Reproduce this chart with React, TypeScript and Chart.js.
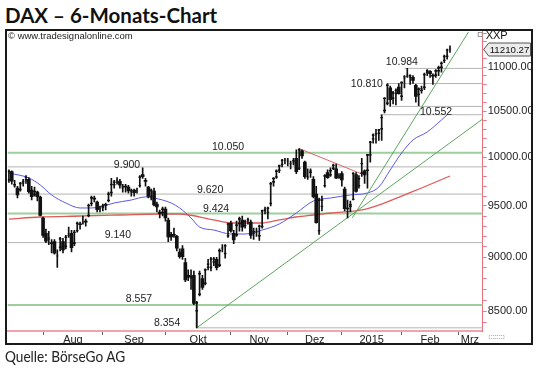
import React, { useEffect, useRef } from 'react';
import { Chart, registerables } from 'chart.js';
Chart.register(...registerables);

// DAX daily bars, 16 Jul 2014 (index 0) .. 25 Feb 2015 (index 155)
const opens = [
  9760, 9850, 9700, 9680, 9660, 9730, 9760, 9770, 9660, 9610, 9640, 9590,
  9380, 9230, 9170, 9140, 9150, 9010, 9090, 9150, 9100, 9210, 9230, 9130, 9250, 9320, 9330, 9340, 9400, 9520, 9580, 9540, 9470,
  9480, 9510, 9550, 9630, 9710, 9740, 9750, 9680, 9700, 9690, 9640, 9660, 9650, 9700, 9820, 9760, 9690, 9590, 9650, 9520, 9440, 9430,
  9470, 9360, 9220, 9220, 9200, 9050, 9080, 8950, 8830, 8800, 8830, 8500, 8650, 8800, 8750, 8900, 8900, 8950, 8980, 8920, 9080, 9030, 9200,
  9330, 9230, 9210, 9320, 9360, 9300, 9350, 9340, 9230, 9240, 9200, 9290, 9450, 9430, 9520, 9740, 9790, 9860, 9920, 9970,
  9960, 9930, 9950, 9990, 9880, 10070, 9950, 9790, 9840, 9770, 9620, 9250, 9490, 9700, 9840, 9810, 9880, 9880, 9790,
  9830, 9670, 9480, 9490, 9560, 9820, 9700, 9830, 9860, 9860, 10020, 10190, 10240, 10250, 10300, 10500, 10580, 10760, 10640, 10690, 10770,
  10660, 10870, 10890, 10880, 10880, 10790, 10680, 10730, 10760, 10930, 10950, 10900, 10900, 10950, 10990, 11070, 11120, 11210,
];
const highs = [
  9870, 9860, 9760, 9700, 9740, 9770, 9810, 9790, 9700, 9690, 9650, 9600,
  9390, 9270, 9250, 9170, 9170, 9070, 9190, 9180, 9210, 9290, 9260, 9260, 9340, 9340, 9400, 9370, 9520, 9600, 9600, 9550, 9500,
  9520, 9530, 9640, 9780, 9760, 9790, 9770, 9720, 9720, 9710, 9670, 9670, 9680, 9810, 9891, 9780, 9700, 9670, 9680, 9540, 9460, 9490,
  9490, 9380, 9240, 9280, 9210, 9080, 9110, 8990, 8880, 8880, 8870, 8590, 8870, 8830, 8890, 8980, 9000, 9000, 9000, 9080, 9120, 9120, 9330,
  9350, 9260, 9350, 9390, 9400, 9360, 9380, 9360, 9280, 9280, 9310, 9460, 9490, 9490, 9740, 9790, 9870, 9920, 9980, 9990,
  9990, 9960, 9990, 10080, 10093, 10080, 9960, 9880, 9880, 9800, 9700, 9580, 9600, 9820, 9870, 9890, 9930, 9930, 9830,
  9850, 9690, 9560, 9550, 9840, 9840, 9810, 9990, 9870, 10030, 10170, 10250, 10300, 10300, 10460, 10650, 10810, 10780, 10720, 10750, 10810,
  10830, 10900, 10984, 10910, 10900, 10800, 10760, 10780, 10930, 10970, 10960, 10920, 10970, 11010, 11060, 11140, 11210, 11250,
];
const lows = [
  9740, 9720, 9690, 9580, 9650, 9700, 9730, 9630, 9560, 9600, 9550, 9400,
  9190, 9140, 9120, 9040, 9030, 8903, 9060, 9040, 9080, 9190, 9050, 9110, 9240, 9270, 9320, 9300, 9390, 9500, 9540, 9440, 9440,
  9450, 9460, 9540, 9600, 9680, 9720, 9680, 9640, 9640, 9630, 9600, 9600, 9630, 9690, 9780, 9700, 9580, 9560, 9500, 9440, 9380, 9400,
  9350, 9150, 9160, 9190, 9060, 8990, 8980, 8770, 8780, 8700, 8560, 8354, 8640, 8700, 8740, 8880, 8870, 8920, 8880, 8910, 9050, 8990, 9190,
  9240, 9130, 9200, 9250, 9250, 9280, 9320, 9180, 9170, 9200, 9160, 9280, 9420, 9370, 9500, 9700, 9780, 9840, 9900, 9930,
  9910, 9880, 9920, 9830, 9870, 9990, 9780, 9770, 9790, 9580, 9330, 9219, 9450, 9690, 9780, 9800, 9870, 9780, 9780,
  9700, 9450, 9382, 9440, 9560, 9640, 9680, 9800, 9730, 9680, 9950, 10150, 10150, 10180, 10180, 10480, 10570, 10552, 10580, 10570, 10690,
  10620, 10760, 10880, 10800, 10810, 10600, 10560, 10700, 10740, 10900, 10880, 10800, 10880, 10900, 10940, 11050, 11090, 11170,
];
const closes = [
  9859, 9753, 9720, 9612, 9734, 9753, 9797, 9644, 9594, 9653, 9593, 9407,
  9210, 9154, 9189, 9130, 9038, 9010, 9180, 9069, 9198, 9225, 9092, 9245, 9334, 9314, 9340, 9339, 9510, 9588, 9569, 9462, 9470,
  9507, 9507, 9626, 9724, 9747, 9758, 9710, 9700, 9691, 9651, 9660, 9633, 9661, 9799, 9799, 9749, 9595, 9662, 9511, 9490, 9422, 9474,
  9382, 9195, 9195, 9209, 9086, 9005, 9005, 8788, 8812, 8826, 8572, 8582, 8850, 8717, 8886, 8940, 8987, 8988, 8902, 9068, 9083, 9115, 9326,
  9254, 9166, 9315, 9377, 9291, 9351, 9369, 9210, 9248, 9252, 9306, 9456, 9472, 9483, 9732, 9785, 9861, 9915, 9974, 9980,
  9963, 9935, 9971, 9851, 10087, 10014, 9799, 9799, 9862, 9594, 9334, 9563, 9564, 9811, 9787, 9865, 9922, 9783, 9806,
  9764, 9473, 9470, 9518, 9837, 9648, 9781, 9941, 9817, 10032, 10167, 10242, 10257, 10299, 10435, 10649, 10798, 10628, 10710, 10738, 10694,
  10828, 10890, 10911, 10906, 10846, 10663, 10752, 10752, 10919, 10963, 10924, 10895, 10961, 10996, 11050, 11130, 11205, 11210.27,
];

// moving averages (bar index / value)
const blueMaIdx = [0, 7, 11, 15, 20, 25, 29, 32, 37, 43, 48, 51, 57, 60, 64, 67, 72, 78, 83, 89, 95, 101, 107, 113, 120, 126, 130, 134, 138, 142, 147, 152, 154];
const blueMaVal = [9836, 9785, 9713, 9611, 9530, 9480, 9480, 9490, 9530, 9560, 9591, 9580, 9530, 9480, 9380, 9291, 9262, 9223, 9223, 9262, 9321, 9430, 9550, 9580, 9611, 9631, 9692, 9868, 10046, 10185, 10271, 10402, 10457];
const redMaIdx = [0, 11, 25, 39, 53, 60, 72, 78, 84, 89, 95, 101, 107, 113, 124, 132, 138, 145, 155];
const redMaVal = [9370, 9390, 9400, 9410, 9420, 9420, 9361, 9331, 9331, 9331, 9361, 9390, 9410, 9430, 9460, 9530, 9600, 9682, 9805];

// horizontal levels
const levelPrices = [10984, 10810, 10552, 10460, 10050, 9900, 9620, 9424, 9140, 8557, 8354];
const levelFrom = [139, 133, 134.5, 130.5, -0.5, -0.5, -0.5, -0.5, -0.5, -0.5, 66];
const levelKind = ['gray', 'gray', 'gray', 'gray', 'green', 'gray', 'gray', 'green', 'gray', 'green', 'gray'];

// trend lines: [startIdx, startPrice, endIdx, endPrice]
const greenTrend1 = [66, 8354, 166.5, 10413];
const greenTrend2 = [120.7, 9382, 161.5, 11414];
const redTrend = [102, 10093, 124, 9826];

// annotation texts
const labelTexts = ['10.984', '10.810', '10.552', '10.050', '9.900', '9.620', '9.424', '9.140', '8.557', '8.354'];
const labelIdx = [138.1, 125.8, 150.1, 77, 41.5, 70.7, 72.8, 38.3, 45.7, 55.6];
const labelPrice = [11058, 10805, 10490, 10110, 9920, 9662, 9470, 9214, 8612, 8397];

const monthStartIdx = [12, 33, 55, 78, 98, 117, 138, 158];
const monthLabels = ['Aug', 'Sep', 'Okt', 'Nov', 'Dez', '2015', 'Feb', 'Mrz'];
const monthLabelIdx = [22.5, 44, 66.5, 88, 107.5, 127.5, 148, 162];

const yMajorTicks = [8500, 9000, 9500, 10000, 10500, 11000];
const lastPrice = 11210.27;

const X_MIN = -0.5;
const X_MAX = 166.5;
const FONT = "'Liberation Sans', Arial, sans-serif";

const overlayPlugin = {
  id: 'overlay',
  afterDatasetsDraw(chart: any) {
    const { ctx, scales } = chart;
    const xs = scales.x;
    const ys = scales.y;
    ctx.save();
    ctx.fillStyle = '#222';
    ctx.font = `10.5px ${FONT}`;
    ctx.textAlign = 'center';
    ctx.textBaseline = 'middle';
    labelTexts.forEach((t, i) => {
      ctx.fillText(t, xs.getPixelForValue(labelIdx[i]), ys.getPixelForValue(labelPrice[i]));
    });
    ctx.restore();
  },
  afterDraw(chart: any) {
    const { ctx, scales, chartArea } = chart;
    const ys = scales.y;
    const yp = Math.round(ys.getPixelForValue(lastPrice)) + 0.5;
    const x0 = chartArea.right + 1;
    ctx.save();
    // price box
    ctx.beginPath();
    ctx.moveTo(x0, yp);
    ctx.lineTo(x0 + 5, yp - 6.5);
    ctx.lineTo(530.5, yp - 6.5);
    ctx.lineTo(530.5, yp + 6.5);
    ctx.lineTo(x0 + 5, yp + 6.5);
    ctx.closePath();
    ctx.fillStyle = '#ececec';
    ctx.fill();
    ctx.strokeStyle = '#555';
    ctx.lineWidth = 1;
    ctx.stroke();
    ctx.fillStyle = '#111';
    ctx.font = `9.7px ${FONT}`;
    ctx.textAlign = 'left';
    ctx.textBaseline = 'middle';
    ctx.fillText(lastPrice.toFixed(2), x0 + 6, yp + 0.5);
    // XXP
    ctx.font = `11px ${FONT}`;
    ctx.fillText('XXP', chartArea.right + 3, chartArea.top + 5);
    ctx.strokeStyle = '#999';
    ctx.strokeRect(chartArea.right - 4.5, chartArea.top + 1.5, 4, 4);
    // small icon bottom right
    ctx.strokeStyle = '#aaa';
    ctx.setLineDash([1, 1]);
    ctx.strokeRect(chartArea.right + 6.5, chartArea.bottom + 4.5, 15, 3);
    ctx.restore();
  },
};

export default function App() {
  const canvasRef = useRef<HTMLCanvasElement | null>(null);

  useEffect(() => {
    const canvas = canvasRef.current;
    if (!canvas) return;

    const wickData = highs.map((h, i) => ({ x: i, y: [lows[i], h] }));
    const bodyData = opens.map((o, i) => ({ x: i, y: [Math.min(o, closes[i]), Math.max(o, closes[i])] }));
    const isDown = (i: number) => closes[i] < opens[i];

    const seg = (a: number[]) => [
      { x: a[0], y: a[1] },
      { x: a[2], y: a[3] },
    ];

    const lineBase = { type: 'line', pointRadius: 0, fill: false, tension: 0 };

    const levelSets = levelPrices.map((p, i) => ({
      ...lineBase,
      data: [
        { x: levelFrom[i], y: p },
        { x: X_MAX, y: p },
      ],
      borderColor: levelKind[i] === 'green' ? '#9dcf9d' : '#b4b4b4',
      borderWidth: levelKind[i] === 'green' ? 2 : 1,
      order: 20,
    }));

    const chart = new Chart(canvas, {
      type: 'bar',
      data: {
        datasets: [
          ...levelSets,
          {
            ...lineBase,
            data: [
              { x: 66, y: 8557 },
              { x: 66, y: 8354 },
            ],
            borderColor: '#a0a0a0',
            borderWidth: 2,
            order: 19,
          },
          {
            ...lineBase,
            data: blueMaIdx.map((x, i) => ({ x, y: blueMaVal[i] })),
            borderColor: '#5a5ae6',
            borderWidth: 1,
            tension: 0.4,
            cubicInterpolationMode: 'monotone',
            order: 8,
          },
          {
            ...lineBase,
            data: redMaIdx.map((x, i) => ({ x, y: redMaVal[i] })),
            borderColor: '#e05a5a',
            borderWidth: 1.3,
            tension: 0.4,
            cubicInterpolationMode: 'monotone',
            order: 8,
          },
          { ...lineBase, data: seg(greenTrend1), borderColor: '#5da55d', borderWidth: 1, order: 7 },
          { ...lineBase, data: seg(greenTrend2), borderColor: '#5da55d', borderWidth: 1, order: 7 },
          { ...lineBase, data: seg(redTrend), borderColor: '#e06464', borderWidth: 1, order: 7 },
          {
            type: 'bar',
            data: wickData,
            backgroundColor: '#111',
            barThickness: 1,
            grouped: false,
            borderSkipped: false,
            order: 2,
          },
          {
            type: 'bar',
            data: bodyData,
            backgroundColor: (c: any) => (isDown(c.dataIndex) ? '#111' : 'rgba(0,0,0,0)'),
            borderColor: '#111',
            borderWidth: (c: any) => (isDown(c.dataIndex) ? 0 : { top: 1, bottom: 1, left: 0, right: 0 }),
            barThickness: 3,
            grouped: false,
            borderSkipped: false,
            minBarLength: 1,
            order: 1,
          },
        ] as any,
      },
      options: {
        animation: false,
        responsive: false,
        devicePixelRatio: 1,
        events: [],
        layout: { padding: { left: 7.5, top: 31, right: 7.3, bottom: 24 } },
        plugins: { legend: { display: false }, tooltip: { enabled: false } },
        scales: {
          x: {
            type: 'linear',
            min: X_MIN,
            max: X_MAX,
            offset: false,
            afterFit: (s: any) => {
              s.height = 14;
            },
            afterBuildTicks: (s: any) => {
              s.ticks = [...monthStartIdx, ...monthLabelIdx].sort((a, b) => a - b).map((v) => ({ value: v }));
            },
            ticks: {
              autoSkip: false,
              maxRotation: 0,
              padding: -2,
              color: '#222',
              font: { family: FONT, size: 11 },
              callback: (v: any) => {
                const k = monthLabelIdx.indexOf(Number(v));
                return k >= 0 ? monthLabels[k] : '';
              },
            },
            grid: {
              drawOnChartArea: false,
              offset: false,
              tickLength: 4,
              color: (c: any) => (c.tick && monthStartIdx.includes(c.tick.value) ? '#666' : 'rgba(0,0,0,0)'),
            },
            border: { display: true, color: '#f0a4ac', width: 2 },
          },
          y: {
            type: 'logarithmic',
            position: 'right',
            min: 8326,
            max: 11426,
            afterFit: (s: any) => {
              s.width = 50;
            },
            afterBuildTicks: (s: any) => {
              const t: any[] = [];
              for (let v = 8400; v <= 11400; v += 100) t.push({ value: v });
              s.ticks = t;
            },
            ticks: {
              autoSkip: false,
              padding: 1,
              color: '#222',
              font: { family: FONT, size: 11 },
              callback: (v: any) => (yMajorTicks.includes(Number(v)) ? Number(v).toFixed(2) : ''),
            },
            grid: { drawOnChartArea: false, tickLength: 4, color: '#e8808b' },
            border: { display: true, color: '#e8707c', width: 1 },
          },
        } as any,
      },
      plugins: [overlayPlugin],
    });
    return () => chart.destroy();
  }, []);

  return (
    <div style={{ position: 'absolute', left: 0, top: 0, width: 540, height: 369, background: '#fff', overflow: 'hidden' }}>
      <div
        style={{
          position: 'absolute',
          left: 5,
          top: 3,
          fontFamily: "Lato, 'Open Sans', sans-serif",
          fontWeight: 700,
          fontSize: 20.5,
          lineHeight: '24px',
          color: '#111',
          whiteSpace: 'nowrap',
        }}
      >
        DAX – 6-Monats-Chart
      </div>
      <canvas ref={canvasRef} width={540} height={369} style={{ position: 'absolute', left: 0, top: 0 }} />
      <div
        style={{
          position: 'absolute',
          left: 5,
          top: 29,
          width: 528,
          height: 316,
          border: '2px solid #1a1a1a',
          boxSizing: 'border-box',
          pointerEvents: 'none',
        }}
      />
      <div
        style={{
          position: 'absolute',
          left: 8,
          top: 30,
          fontFamily: FONT,
          fontSize: 9.5,
          lineHeight: '11px',
          color: '#222',
          whiteSpace: 'nowrap',
        }}
      >
        © www.tradesignalonline.com
      </div>
      <div
        style={{
          position: 'absolute',
          left: 5,
          top: 346,
          fontFamily: "Lato, 'Open Sans', sans-serif",
          fontSize: 15.5,
          lineHeight: '20px',
          color: '#222',
          whiteSpace: 'nowrap',
          transform: 'scaleX(0.88)',
          transformOrigin: 'left top',
        }}
      >
        Quelle: BörseGo AG
      </div>
    </div>
  );
}
